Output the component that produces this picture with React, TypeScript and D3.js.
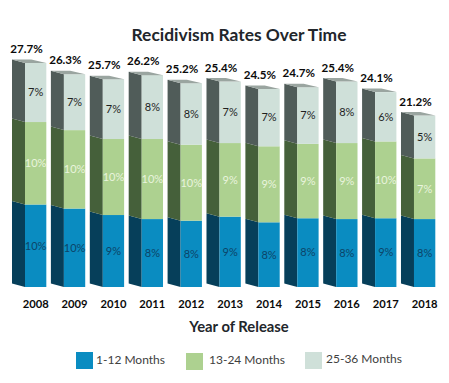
import React from "react";
import * as d3 from "d3";

const years = ["2008", "2009", "2010", "2011", "2012", "2013", "2014", "2015", "2016", "2017", "2018"];
const months1to12 = [10.2, 9.7, 8.9, 8.4, 8.2, 8.7, 8.0, 8.5, 8.4, 8.5, 8.4];
const months13to24 = [10.2, 9.7, 9.4, 9.9, 9.4, 9.1, 9.4, 9.2, 9.4, 9.5, 7.5];
const months25to36 = [7.3, 6.9, 7.4, 7.9, 7.6, 7.6, 7.1, 7.0, 7.6, 6.1, 5.3];
const labels1to12 = ["10%", "10%", "9%", "8%", "8%", "9%", "8%", "8%", "8%", "9%", "8%"];
const labels13to24 = ["10%", "10%", "10%", "10%", "10%", "9%", "9%", "9%", "9%", "10%", "7%"];
const labels25to36 = ["7%", "7%", "7%", "8%", "8%", "7%", "7%", "7%", "8%", "6%", "5%"];
const totals = ["27.7%", "26.3%", "25.7%", "26.2%", "25.2%", "25.4%", "24.5%", "24.7%", "25.4%", "24.1%", "21.2%"];
const seriesNames = ["1-12 Months", "13-24 Months", "25-36 Months"];

const FONT = "Lato, sans-serif";
const front = ["#0a8cc1", "#add190", "#cfe0d9"];
const side = ["#063f5a", "#45603a", "#505c59"];
const labelFill = ["#0c4468", "#e9f4dd", "#1f1f1f"];
const topFace = "#9aa5a0";
const DX = 13;
const DY = 3.5;

const rows = years.map((year, i) => ({
  year,
  s0: months1to12[i],
  s1: months13to24[i],
  s2: months25to36[i],
}));
const keys = ["s0", "s1", "s2"];
const layers = d3.stack<any>().keys(keys)(rows);
const segLabels = [labels1to12, labels13to24, labels25to36];

const x = d3.scaleBand<string>().domain(years).range([25, 25 + 38.9 * 10 + 21.3]).paddingInner(0.452).paddingOuter(0);
const y = d3.scaleLinear().domain([0, 27.7]).range([287, 63]);

const legendX = [76, 186, 305];
const legendTextX = [96, 209, 326];

export default function App() {
  const w = x.bandwidth();
  return (
    <svg width={449} height={383} style={{ position: "absolute", left: 0, top: 0, background: "#fff", fontFamily: FONT }}>
      <text x={239} y={35} dy="0.35em" textAnchor="middle" fontSize={17.4} fontWeight={700} fill="#22262b">
        Recidivism Rates Over Time
      </text>
      {layers.map((layer, li) => (
        <g key={li}>
          {layer.map((d, i) => {
            const x0 = x(years[i]) as number;
            const yb = y(d[0]);
            const yt = y(d[1]);
            return (
              <g key={i}>
                <polygon
                  points={`${x0},${yb} ${x0},${yt} ${x0 - DX},${yt - DY} ${x0 - DX},${yb - DY}`}
                  fill={side[li]}
                />
                <rect x={x0} y={yt} width={w} height={yb - yt} fill={front[li]} />
                {li === 2 && (
                  <polygon
                    points={`${x0 - DX},${yt - DY} ${x0 - DX + w - 2},${yt - DY} ${x0 + w},${yt} ${x0},${yt}`}
                    fill={topFace}
                  />
                )}
                <text
                  x={x0 + w / 2}
                  y={(yb + yt) / 2}
                  dy="0.35em"
                  textAnchor="middle"
                  fontSize={11}
                  fill={labelFill[li]}
                >
                  {segLabels[li][i]}
                </text>
              </g>
            );
          })}
        </g>
      ))}
      {years.map((yr, i) => {
        const x0 = x(yr) as number;
        const topY = y(layers[2][i][1]);
        return (
          <g key={yr} fontWeight={700} textAnchor="middle" fill="#0a0a0a">
            <text x={x0 + 1.5} y={topY - 14} dy="0.35em" fontSize={11.6}>
              {totals[i]}
            </text>
            <text x={x0 + w / 2} y={304} dy="0.35em" fontSize={11.2}>
              {yr}
            </text>
          </g>
        );
      })}
      <text x={239} y={327} dy="0.35em" textAnchor="middle" fontSize={14.8} fontWeight={700} fill="#22262b">
        Year of Release
      </text>
      {seriesNames.map((name, i) => (
        <g key={name}>
          <rect x={legendX[i]} y={i === 1 ? 353 : 352} width={17} height={17} fill={front[i]} />
          <text x={legendTextX[i]} y={i === 2 ? 359 : 360} dy="0.35em" fontSize={12} fill="#404040">
            {name}
          </text>
        </g>
      ))}
    </svg>
  );
}
